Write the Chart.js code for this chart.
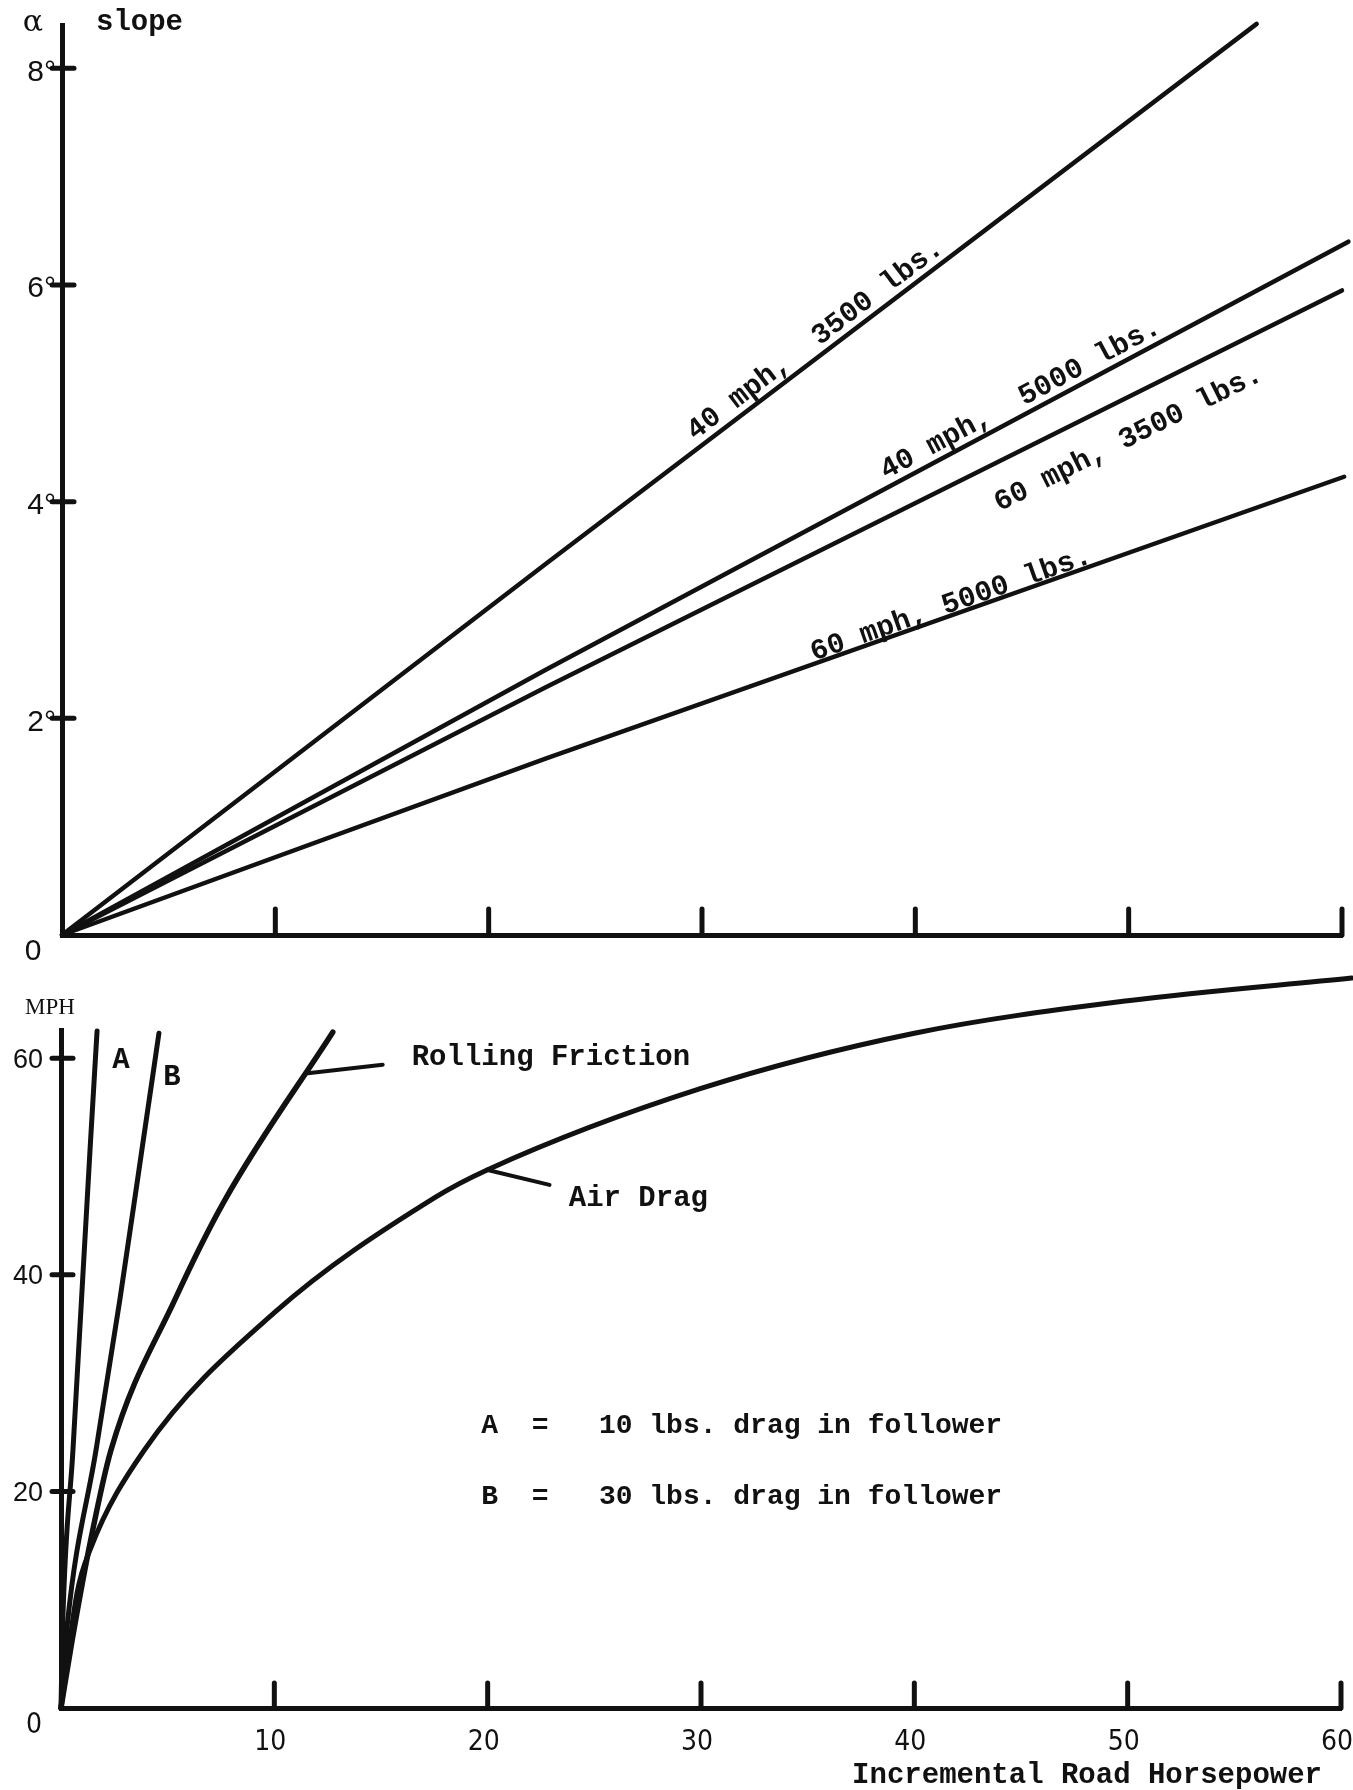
<!DOCTYPE html>
<html>
<head>
<meta charset="utf-8">
<script src="https://cdn.jsdelivr.net/npm/chart.js@4.4.1/dist/chart.umd.min.js"></script>
<style>
  html, body { margin: 0; padding: 0; background: #fff; }
  #page { position: relative; width: 1353px; height: 1790px; background: #fff; }
  #slopeBox { position: absolute; left: 0; top: 0; width: 1353px; height: 990px; }
  #mphBox { position: absolute; left: 0; top: 940px; width: 1353px; height: 850px; }
</style>
</head>
<body>
<div id="page">
  <div id="slopeBox"><canvas id="slopeChart"></canvas></div>
  <div id="mphBox"><canvas id="mphChart"></canvas></div>
</div>
<script>
const HP_TICKS = [10, 20, 30, 40, 50, 60];
const HP_TICK_LABELS = ["10", "20", "30", "40", "50", "60"];
const SLOPE_TICKS = [2, 4, 6, 8];
const SLOPE_TICK_LABELS = ["2°", "4°", "6°", "8°"];
const MPH_TICKS = [20, 40, 60];
const MPH_TICK_LABELS = ["20", "40", "60"];

// upper panel: slope (degrees) against incremental road hp
const SLOPE_SERIES = ["40 mph,  3500 lbs.", "40 mph,  5000 lbs.", "60 mph, 3500 lbs.", "60 mph, 5000 lbs."];
const hp40mph3500 = [0, 22.7, 56.0];
const deg40mph3500 = [0, 3.43, 8.41];
const hp40mph5000 = [0, 22.7, 60.3];
const deg40mph5000 = [0, 2.45, 6.40];
const hp60mph3500 = [0, 22.7, 60.0];
const deg60mph3500 = [0, 2.29, 5.95];
const hp60mph5000 = [0, 22.7, 60.1];
const deg60mph5000 = [0, 1.63, 4.23];

// lower panel: speed against incremental road hp
const MPH_SERIES = ["A", "B", "Rolling Friction", "Air Drag"];
const hpA = [0, 0.08, 0.56, 1.36, 1.69];
const mphA = [0, 7.8, 23.8, 51.5, 62.5];
const hpB = [0, 0.3, 1.64, 2.76, 3.79, 4.59];
const mphB = [0, 7.8, 23.8, 37.7, 51.5, 62.3];
const hpRolling = [0, 0.5, 1.3, 2.34, 5.34, 7.68, 12.74];
const mphRolling = [0, 6, 14.6, 23.8, 37.7, 46.9, 62.4];
const hpAir = [0, 0.75, 1.36, 3.9, 10, 17.5, 20, 30, 40, 50, 60.5];
const mphAir = [0, 10.6, 14.6, 23.8, 36.5, 47.1, 49.7, 57.2, 62.3, 65.3, 67.4];

const LEGEND_LINES = ["A  =   10 lbs. drag in follower", "B  =   30 lbs. drag in follower"];

const INK = "#111";
const TYPE = 'bold 29px "Liberation Mono", "DejaVu Sans Mono", monospace';
const TYPE_SMALL = 'bold 28px "Liberation Mono", "DejaVu Sans Mono", monospace';
const SANS = '"Liberation Sans", Arial, sans-serif';
const NARROW = '"Liberation Sans Narrow", "DejaVu Sans Condensed", sans-serif';

function toPoints(xs, ys) {
  return xs.map((x, i) => ({ x, y: ys[i] }));
}

function lineSet(label, xs, ys, width, smooth) {
  return {
    label,
    data: toPoints(xs, ys),
    showLine: true,
    borderColor: INK,
    borderWidth: width,
    borderCapStyle: "round",
    borderJoinStyle: "round",
    pointRadius: 0,
    tension: smooth ? 0.4 : 0,
    cubicInterpolationMode: smooth ? "monotone" : "default",
    clip: false,
  };
}

function axisScale(min, max) {
  return {
    type: "linear",
    min,
    max,
    ticks: { display: false },
    grid: { display: false, drawTicks: false },
    border: { display: true, width: 5, color: INK },
  };
}

// pixel point on a straight-segment series at a given hp, plus the segment angle
function pointAlong(chart, dsIndex, hp) {
  const pts = chart.getDatasetMeta(dsIndex).data;
  const px = chart.scales.x.getPixelForValue(hp);
  for (let i = 1; i < pts.length; i++) {
    if (px <= pts[i].x || i === pts.length - 1) {
      const a = pts[i - 1];
      const b = pts[i];
      const t = (px - a.x) / (b.x - a.x);
      return { x: px, y: a.y + t * (b.y - a.y), angle: Math.atan2(b.y - a.y, b.x - a.x) };
    }
  }
  return null;
}

function strokeSeg(ctx, x1, y1, x2, y2, w) {
  ctx.lineWidth = w;
  ctx.lineCap = "round";
  ctx.beginPath();
  ctx.moveTo(x1, y1);
  ctx.lineTo(x2, y2);
  ctx.stroke();
}

const slopeLabelSpots = [
  { series: 0, hp: 29.9, offset: -8 },
  { series: 1, hp: 38.8, offset: -8 },
  { series: 2, hp: 43.0, offset: 45 },
  { series: 3, hp: 35.3, offset: -3 },
];

const slopeMarks = {
  id: "slopeMarks",
  afterDraw(chart) {
    const { ctx, chartArea } = chart;
    const xs = chart.scales.x;
    const ys = chart.scales.y;
    const x0 = chartArea.left;
    const y0 = chartArea.bottom;
    ctx.save();
    ctx.strokeStyle = INK;
    ctx.fillStyle = INK;

    SLOPE_TICKS.forEach((v, i) => {
      const y = ys.getPixelForValue(v);
      strokeSeg(ctx, x0 - 10, y, x0 + 12, y, 5);
      ctx.font = "30px " + SANS;
      ctx.textAlign = "right";
      ctx.textBaseline = "middle";
      ctx.fillText(SLOPE_TICK_LABELS[i], x0 - 6, y + 4);
    });
    HP_TICKS.forEach((v) => {
      const x = xs.getPixelForValue(v);
      strokeSeg(ctx, x, y0, x, y0 - 26, 5);
    });

    ctx.font = "30px " + SANS;
    ctx.textAlign = "center";
    ctx.textBaseline = "middle";
    ctx.fillText("0", x0 - 29, y0 + 17);

    ctx.font = '30px "DejaVu Serif", "Liberation Serif", serif';
    ctx.fillText("α", x0 - 29, chartArea.top - 2);
    ctx.font = TYPE;
    ctx.textAlign = "left";
    ctx.textBaseline = "alphabetic";
    ctx.fillText("slope", x0 + 34, chartArea.top + 5);

    slopeLabelSpots.forEach((spot) => {
      const p = pointAlong(chart, spot.series, spot.hp);
      if (!p) return;
      ctx.save();
      ctx.translate(p.x, p.y);
      ctx.rotate(p.angle);
      ctx.font = TYPE;
      ctx.textAlign = "left";
      ctx.textBaseline = "alphabetic";
      ctx.fillText(SLOPE_SERIES[spot.series], 0, spot.offset);
      ctx.restore();
    });
    ctx.restore();
  },
};

const mphNotes = {
  labels: [
    { text: MPH_SERIES[0], hp: 2.81, mph: 59.8, align: "center", font: TYPE },
    { text: MPH_SERIES[1], hp: 5.2, mph: 58.2, align: "center", font: TYPE },
    { text: MPH_SERIES[2], hp: 16.44, mph: 60.0, align: "left", font: TYPE },
    { text: MPH_SERIES[3], hp: 23.8, mph: 47.0, align: "left", font: TYPE },
    { text: LEGEND_LINES[0], hp: 19.7, mph: 26.0, align: "left", font: TYPE_SMALL },
    { text: LEGEND_LINES[1], hp: 19.7, mph: 19.5, align: "left", font: TYPE_SMALL },
  ],
  leaders: [
    { from: [11.57, 58.6], to: [15.08, 59.4] },
    { from: [19.95, 49.7], to: [22.9, 48.3] },
  ],
};

const mphMarks = {
  id: "mphMarks",
  afterDraw(chart) {
    const { ctx, chartArea } = chart;
    const xs = chart.scales.x;
    const ys = chart.scales.y;
    const x0 = chartArea.left;
    const y0 = chartArea.bottom;
    ctx.save();
    ctx.strokeStyle = INK;
    ctx.fillStyle = INK;

    MPH_TICKS.forEach((v, i) => {
      const y = ys.getPixelForValue(v);
      strokeSeg(ctx, x0 - 9, y, x0 + 12, y, 5);
      ctx.font = "27px " + SANS;
      ctx.textAlign = "right";
      ctx.textBaseline = "middle";
      ctx.fillText(MPH_TICK_LABELS[i], x0 - 18, y + 2);
    });
    HP_TICKS.forEach((v, i) => {
      const x = xs.getPixelForValue(v);
      strokeSeg(ctx, x, y0, x, y0 - 25, 5);
      ctx.font = "28px " + NARROW;
      ctx.textAlign = "center";
      ctx.textBaseline = "middle";
      ctx.fillText(HP_TICK_LABELS[i], x - 4, y0 + 35);
    });

    ctx.font = "28px " + NARROW;
    ctx.textAlign = "center";
    ctx.textBaseline = "middle";
    ctx.fillText("0", x0 - 27, y0 + 18);

    ctx.font = '23px "Liberation Serif", serif';
    ctx.fillText("MPH", x0 - 11, chartArea.top - 22);

    ctx.font = TYPE;
    ctx.textAlign = "right";
    ctx.textBaseline = "middle";
    ctx.fillText("Incremental Road Horsepower", chartArea.right - 19, y0 + 68);

    mphNotes.leaders.forEach((l) => {
      strokeSeg(
        ctx,
        xs.getPixelForValue(l.from[0]), ys.getPixelForValue(l.from[1]),
        xs.getPixelForValue(l.to[0]), ys.getPixelForValue(l.to[1]),
        4
      );
    });
    mphNotes.labels.forEach((n) => {
      ctx.font = n.font;
      ctx.textAlign = n.align;
      ctx.textBaseline = "middle";
      ctx.fillText(n.text, xs.getPixelForValue(n.hp), ys.getPixelForValue(n.mph));
    });
    ctx.restore();
  },
};

const baseOptions = {
  responsive: true,
  maintainAspectRatio: false,
  animation: false,
  events: [],
  plugins: { legend: { display: false }, tooltip: { enabled: false } },
};

new Chart(document.getElementById("slopeChart").getContext("2d"), {
  type: "scatter",
  data: {
    datasets: [
      lineSet(SLOPE_SERIES[0], hp40mph3500, deg40mph3500, 4.5, false),
      lineSet(SLOPE_SERIES[1], hp40mph5000, deg40mph5000, 4.5, false),
      lineSet(SLOPE_SERIES[2], hp60mph3500, deg60mph3500, 4.5, false),
      lineSet(SLOPE_SERIES[3], hp60mph5000, deg60mph5000, 4.5, false),
    ],
  },
  options: {
    ...baseOptions,
    layout: { padding: { left: 62, right: 11, top: 25, bottom: 55 } },
    scales: { x: axisScale(0, 60), y: axisScale(0, 8.4) },
  },
  plugins: [slopeMarks],
});

new Chart(document.getElementById("mphChart").getContext("2d"), {
  type: "scatter",
  data: {
    datasets: [
      lineSet(MPH_SERIES[0], hpA, mphA, 5, true),
      lineSet(MPH_SERIES[1], hpB, mphB, 5, true),
      lineSet(MPH_SERIES[2], hpRolling, mphRolling, 5.5, true),
      lineSet(MPH_SERIES[3], hpAir, mphAir, 5, true),
    ],
  },
  options: {
    ...baseOptions,
    layout: { padding: { left: 61, right: 12, top: 90, bottom: 82 } },
    scales: { x: axisScale(0, 60), y: axisScale(0, 62.6) },
  },
  plugins: [mphMarks],
});
</script>
</body>
</html>
